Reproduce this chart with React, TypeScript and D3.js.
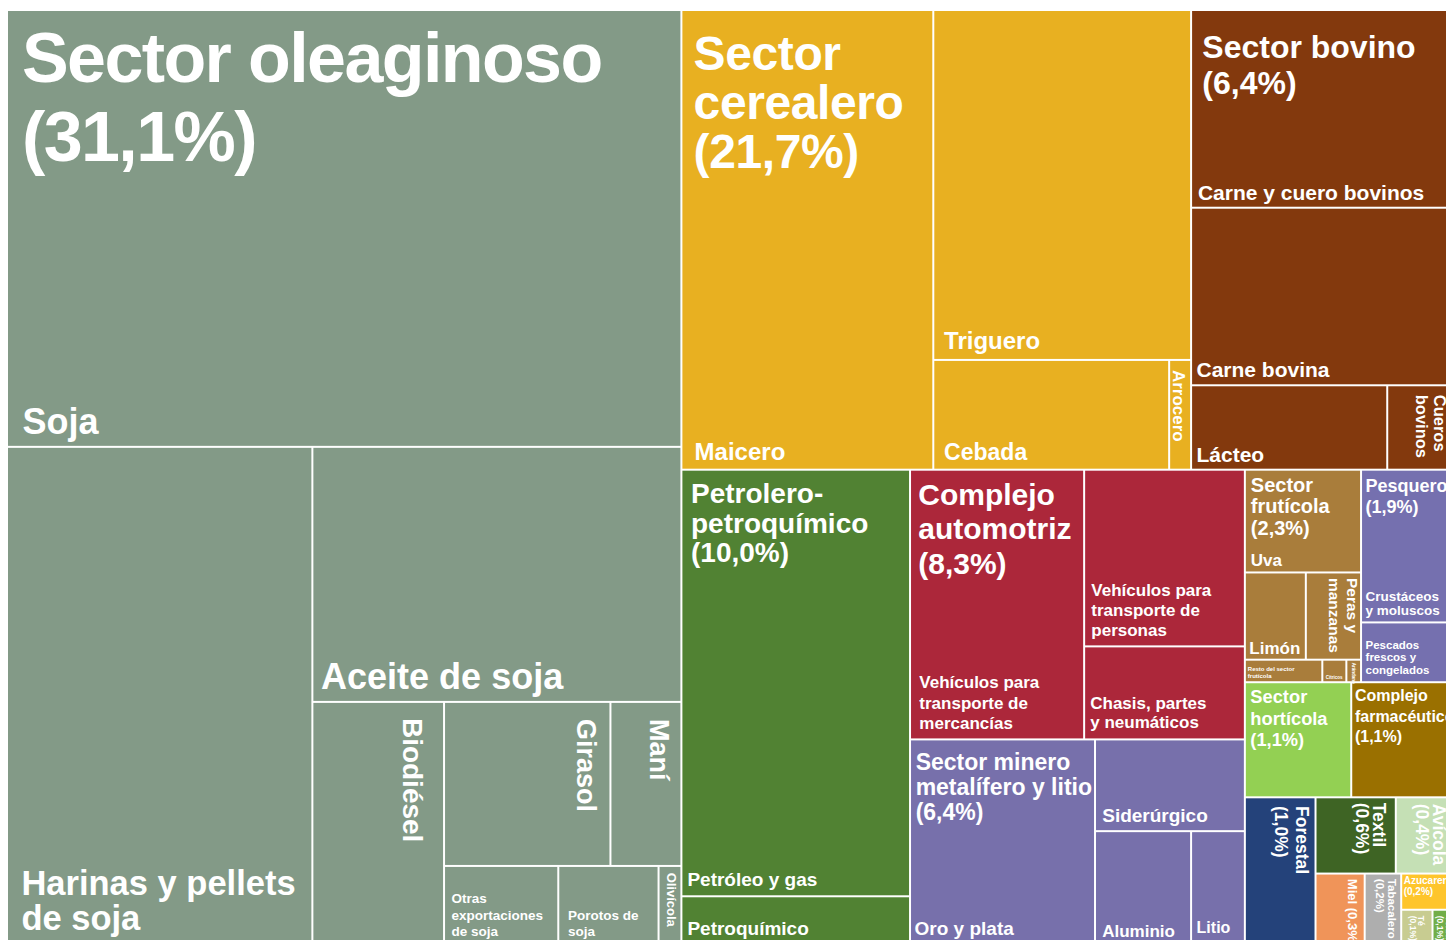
import React, { useMemo } from "react";
import * as d3 from "d3";

// ---------------- DATA ----------------
const sectorNames = [
  "Sector oleaginoso", "Sector cerealero", "Sector bovino", "Petrolero-petroquímico",
  "Complejo automotriz", "Sector minero metalífero y litio", "Sector frutícola", "Pesquero",
  "Sector hortícola", "Complejo farmacéutico", "Forestal", "Textil", "Avícola", "Miel",
  "Tabacalero", "Azucarero", "Té", "Yerbatero",
];
// share of exports shown in labels (%)
const sectorShares = [31.1, 21.7, 6.4, 10.0, 8.3, 6.4, 2.3, 1.9, 1.1, 1.1, 1.0, 0.6, 0.4, 0.3, 0.2, 0.2, 0.1, 0.1];
// weight of sectors that have no sub-products (area weight)
const sectorOwnWeights: (number | null)[] = [
  null, null, null, null, null, null, null, null,
  122, 119, 104, 61, 45, 35, 26, 19.4, 11, 7.9,
];
const sectorColors = [
  "#839a87", "#e8b021", "#83390d", "#518233", "#ac273a", "#7770ab", "#a97d3b", "#7570af",
  "#93d053", "#9a7000", "#24427a", "#3e6424", "#c5e0b5", "#f09459", "#aeaeae", "#fec52c",
  "#c8cc91", "#72ae49",
];

const leafNames = [
  "Soja", "Harinas y pellets de soja", "Aceite de soja", "Biodiésel", "Girasol", "Maní",
  "Otras exportaciones de soja", "Porotos de soja", "Olivícola",
  "Maicero", "Triguero", "Cebada", "Arrocero",
  "Carne y cuero bovinos", "Carne bovina", "Lácteo", "Cueros bovinos",
  "Petróleo y gas", "Petroquímico",
  "Vehículos para transporte de mercancías", "Vehículos para transporte de personas", "Chasis, partes y neumáticos",
  "Oro y plata", "Siderúrgico", "Aluminio", "Litio",
  "Uva", "Limón", "Peras y manzanas", "Resto del sector frutícola", "Cítricos", "Arándano",
  "Crustáceos y moluscos", "Pescados frescos y congelados",
];
const leafSector = [
  0, 0, 0, 0, 0, 0, 0, 0, 0,
  1, 1, 1, 1,
  2, 2, 2, 2,
  3, 3,
  4, 4, 4,
  5, 5, 5, 5,
  6, 6, 6, 6, 6, 6,
  7, 7,
];
const leafWeights = [
  2936, 1516, 938, 319, 272, 116, 90, 79, 18,
  1154, 899, 258, 24,
  520, 467, 165, 57,
  972, 111,
  468, 283, 149,
  379, 137, 109, 61,
  119, 53, 48, 17.4, 5.4, 3.3,
  143, 56,
];

// ---------------- LAYOUT (row breaks of the treemap) ----------------
type Dir = "row" | "col";
const tiling: Record<string, [number, Dir][]> = {
  root: [[1, "col"], [2, "row"], [1, "col"], [2, "col"], [2, "row"], [2, "row"], [1, "col"], [2, "row"], [1, "col"], [1, "col"], [1, "row"], [2, "row"]],
  "Sector oleaginoso": [[1, "row"], [1, "col"], [1, "row"], [1, "col"], [2, "row"], [3, "row"]],
  "Sector cerealero": [[1, "col"], [1, "row"], [2, "row"]],
  "Sector bovino": [[1, "row"], [1, "row"], [2, "row"]],
  "Petrolero-petroquímico": [[1, "row"], [1, "row"]],
  "Complejo automotriz": [[1, "col"], [2, "col"]],
  "Sector minero metalífero y litio": [[1, "col"], [1, "row"], [2, "row"]],
  "Sector frutícola": [[1, "row"], [2, "row"], [3, "row"]],
  Pesquero: [[1, "row"], [1, "row"]],
};

function tile(node: any, x0: number, y0: number, x1: number, y1: number) {
  const groups = tiling[node.data.name] ?? [[node.children.length, "row"]];
  let rest = node.value;
  let i = 0;
  for (const [n, dir] of groups) {
    const kids = node.children.slice(i, i + n);
    i += n;
    const v = d3.sum(kids, (d: any) => d.value);
    const part: any = { children: kids, value: v };
    if (dir === "row") {
      const y = rest ? y0 + ((y1 - y0) * v) / rest : y1;
      d3.treemapDice(part, x0, y0, x1, y);
      y0 = y;
    } else {
      const x = rest ? x0 + ((x1 - x0) * v) / rest : x1;
      d3.treemapSlice(part, x0, y0, x, y1);
      x0 = x;
    }
    rest -= v;
  }
}

// ---------------- LABEL STYLES ----------------
type L = { pos: "t" | "b" | "r"; fs: number; lh?: number; dx: number; dy: number; lines?: string[]; ls?: number; one?: boolean };
const labelStyle: Record<string, L> = {
  "Sector oleaginoso": { pos: "t", fs: 70, lh: 79, dx: 14, dy: 70.7, ls: -1.6, lines: ["Sector oleaginoso"] },
  "Sector cerealero": { pos: "t", fs: 48, lh: 49, dx: 11.2, dy: 59, ls: -0.4, lines: ["Sector", "cerealero"] },
  "Sector bovino": { pos: "t", fs: 32, lh: 36.6, dx: 10.2, dy: 46.7, lines: ["Sector bovino"] },
  "Petrolero-petroquímico": { pos: "t", fs: 28, lh: 29.4, dx: 8.6, dy: 32.6, lines: ["Petrolero-", "petroquímico"] },
  "Complejo automotriz": { pos: "t", fs: 30, lh: 34.5, dx: 7.2, dy: 34.3, lines: ["Complejo", "automotriz"] },
  "Sector minero metalífero y litio": { pos: "t", fs: 23, lh: 25, dx: 4.6, dy: 30, lines: ["Sector minero", "metalífero y litio"] },
  "Sector frutícola": { pos: "t", fs: 20, lh: 21.5, dx: 5, dy: 21, lines: ["Sector", "frutícola"] },
  Pesquero: { pos: "t", fs: 18, lh: 21, dx: 3.5, dy: 21.6 },
  "Sector hortícola": { pos: "t", fs: 18.3, lh: 21.5, dx: 4.5, dy: 20, lines: ["Sector", "hortícola"] },
  "Complejo farmacéutico": { pos: "t", fs: 16, lh: 20.5, dx: 2.7, dy: 18, lines: ["Complejo", "farmacéutico"] },
  Forestal: { pos: "r", fs: 17.5, lh: 21, dx: 18.6, dy: 7.7 },
  Textil: { pos: "r", fs: 17.5, lh: 17, dx: 21.3, dy: 4.4 },
  "Avícola": { pos: "r", fs: 17.5, lh: 17.5, dx: 21, dy: 5.4 },
  Miel: { pos: "r", fs: 13, lh: 13, dx: 16, dy: 4.3, one: true },
  Tabacalero: { pos: "r", fs: 11.5, lh: 12.5, dx: 11.8, dy: 4.3 },
  Azucarero: { pos: "t", fs: 10, lh: 11, dx: 1.5, dy: 9.3 },
  "Té": { pos: "r", fs: 8.5, lh: 8.5, dx: 13.5, dy: 5 },
  Yerbatero: { pos: "r", fs: 8.5, lh: 9, dx: 8, dy: 5 },

  Soja: { pos: "b", fs: 36, dx: 14.4, dy: 11.4 },
  "Harinas y pellets de soja": { pos: "b", fs: 34.5, lh: 35, dx: 13.4, dy: 14, lines: ["Harinas y pellets", "de soja"] },
  "Aceite de soja": { pos: "b", fs: 36, dx: 7.7, dy: 11.5 },
  "Biodiésel": { pos: "r", fs: 28, dx: 39.7, dy: 15 },
  Girasol: { pos: "r", fs: 27, dx: 32.5, dy: 16 },
  "Maní": { pos: "r", fs: 27, dx: 30.5, dy: 16 },
  "Otras exportaciones de soja": { pos: "b", fs: 13.5, lh: 16.3, dx: 6.4, dy: 8, lines: ["Otras", "exportaciones", "de soja"] },
  "Porotos de soja": { pos: "b", fs: 13.5, lh: 16, dx: 8.7, dy: 8, lines: ["Porotos de", "soja"] },
  "Olivícola": { pos: "r", fs: 13, dx: 13.5, dy: 5.7 },
  Maicero: { pos: "b", fs: 24, dx: 12.2, dy: 9 },
  Triguero: { pos: "b", fs: 24, dx: 9.8, dy: 9.5 },
  Cebada: { pos: "b", fs: 23, dx: 9.8, dy: 9 },
  Arrocero: { pos: "r", fs: 17, dx: 16.8, dy: 9 },
  "Carne y cuero bovinos": { pos: "b", fs: 21, dx: 5.8, dy: 6.3 },
  "Carne bovina": { pos: "b", fs: 21, dx: 4.4, dy: 7 },
  "Lácteo": { pos: "b", fs: 21, dx: 4.4, dy: 6.6 },
  "Cueros bovinos": { pos: "r", fs: 16.5, lh: 18, dx: 20, dy: 8.5, lines: ["Cueros", "bovinos"] },
  "Petróleo y gas": { pos: "b", fs: 19, dx: 5, dy: 9.3 },
  "Petroquímico": { pos: "b", fs: 19, dx: 5, dy: 9 },
  "Vehículos para transporte de mercancías": { pos: "b", fs: 17, lh: 20.3, dx: 8.3, dy: 9.4, lines: ["Vehículos para", "transporte de", "mercancías"] },
  "Vehículos para transporte de personas": { pos: "b", fs: 17, lh: 20, dx: 6.2, dy: 9, lines: ["Vehículos para", "transporte de", "personas"] },
  "Chasis, partes y neumáticos": { pos: "b", fs: 17, lh: 19.5, dx: 5.1, dy: 10, lines: ["Chasis, partes", "y neumáticos"] },
  "Oro y plata": { pos: "b", fs: 19, dx: 3.5, dy: 9 },
  "Siderúrgico": { pos: "b", fs: 19, dx: 6.2, dy: 8.3 },
  Aluminio: { pos: "b", fs: 17, dx: 6.2, dy: 7.3 },
  Litio: { pos: "b", fs: 16, dx: 4.5, dy: 10.7 },
  Uva: { pos: "b", fs: 17, dx: 5, dy: 5.7 },
  "Limón": { pos: "b", fs: 17, dx: 3.5, dy: 5 },
  "Peras y manzanas": { pos: "r", fs: 15.5, lh: 18, dx: 13.5, dy: 4.5, lines: ["Peras y", "manzanas"] },
  "Resto del sector frutícola": { pos: "b", fs: 6, lh: 7, dx: 2, dy: 3.7, lines: ["Resto del sector", "frutícola"] },
  "Cítricos": { pos: "b", fs: 4.5, dx: 2.5, dy: 2.7 },
  "Arándano": { pos: "r", fs: 4.5, dx: 8, dy: 2 },
  "Crustáceos y moluscos": { pos: "b", fs: 13.5, lh: 14, dx: 3.5, dy: 6.7, lines: ["Crustáceos", "y moluscos"] },
  "Pescados frescos y congelados": { pos: "b", fs: 11.5, lh: 12.5, dx: 3.5, dy: 7.4, lines: ["Pescados", "frescos y", "congelados"] },
};

const FONT = "'Liberation Sans', Arial, Helvetica, sans-serif";
const W = 1446;
const H = 933;

const fmtShare = (v: number) => `(${v.toFixed(1).replace(".", ",")}%)`;

export default function App() {
  const { leaves, sectors } = useMemo(() => {
    const data = {
      name: "root",
      children: sectorNames.map((name, si) => {
        const kids = leafNames
          .map((n, li) => ({ name: n, weight: leafWeights[li], sector: si }))
          .filter((_, li) => leafSector[li] === si);
        return kids.length
          ? { name, sector: si, children: kids }
          : { name, sector: si, weight: sectorOwnWeights[si] as number };
      }),
    };
    const root = d3
      .hierarchy<any>(data)
      .sum((d: any) => (d.children ? 0 : d.weight));
    d3.treemap<any>().tile(tile as any).size([W, H]).paddingInner(2)(root);
    return { leaves: root.leaves() as any[], sectors: (root.children ?? []) as any[] };
  }, []);

  const renderLabel = (name: string, node: any, extraLine?: string) => {
    const st = labelStyle[name];
    if (!st) return null;
    let lines = st.lines ? [...st.lines] : [name];
    if (extraLine) {
      if (st.one) lines = [`${lines[0]} ${extraLine}`];
      else lines.push(extraLine);
    }
    const lh = st.lh ?? st.fs * 1.1;
    const common = {
      fill: "#fff",
      fontFamily: FONT,
      fontWeight: 700,
      fontSize: st.fs,
      letterSpacing: st.ls ?? 0,
    } as any;
    if (st.pos === "r") {
      return (
        <text
          key={"l" + name}
          transform={`translate(${node.x1 - st.dx},${node.y0 + st.dy}) rotate(90)`}
          {...common}
        >
          {lines.map((t, i) => (
            <tspan key={i} x={0} y={i * lh}>{t}</tspan>
          ))}
        </text>
      );
    }
    const x = node.x0 + st.dx;
    const y0 =
      st.pos === "t" ? node.y0 + st.dy : node.y1 - st.dy - (lines.length - 1) * lh;
    return (
      <text key={"l" + name} {...common}>
        {lines.map((t, i) => (
          <tspan key={i} x={x} y={y0 + i * lh}>{t}</tspan>
        ))}
      </text>
    );
  };

  return (
    <div
      style={{
        position: "fixed",
        left: 0,
        top: 0,
        width: 1446,
        height: 940,
        overflow: "hidden",
        background: "#fff",
      }}
    >
      <svg width={1446} height={940} style={{ display: "block" }}>
        <g transform="translate(8,11)">
          {leaves.map((d, i) => (
            <rect
              key={i}
              x={d.x0}
              y={d.y0}
              width={Math.max(0, d.x1 - d.x0)}
              height={Math.max(0, d.y1 - d.y0)}
              fill={sectorColors[d.data.sector]}
            />
          ))}
          {leaves
            .filter((d) => d.depth === 2)
            .map((d) => renderLabel(d.data.name, d))}
          {sectors.map((s) =>
            renderLabel(s.data.name, s, fmtShare(sectorShares[s.data.sector]))
          )}
        </g>
      </svg>
    </div>
  );
}
